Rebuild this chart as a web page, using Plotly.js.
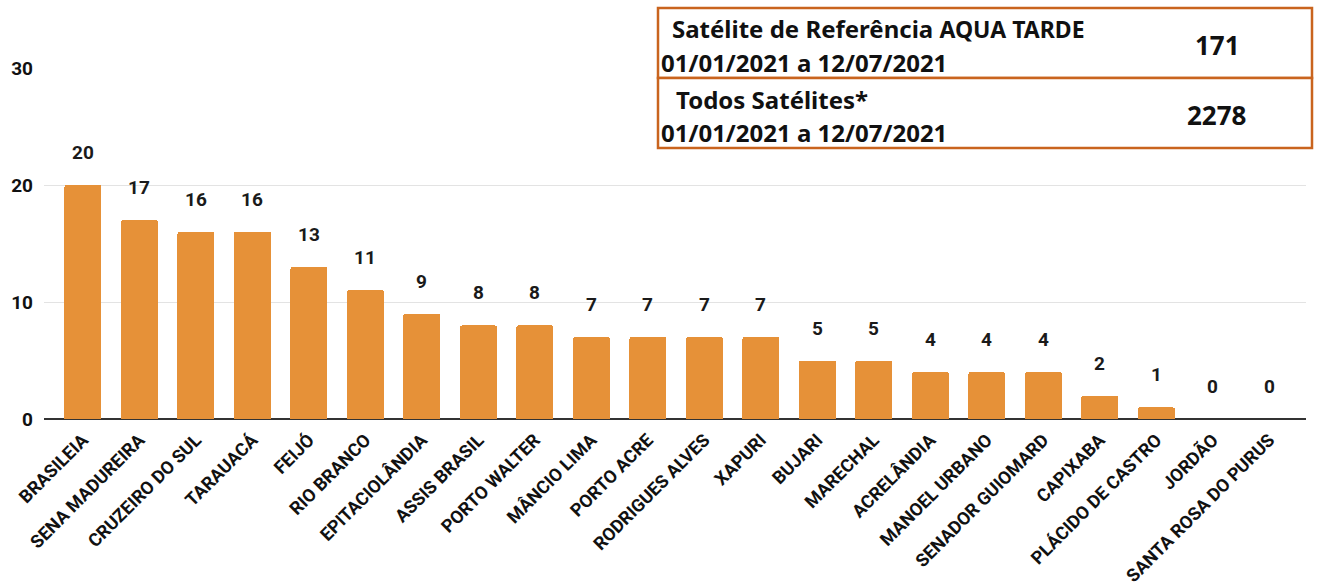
<!DOCTYPE html>
<html>
<head>
<meta charset="utf-8">
<script src="https://cdn.plot.ly/plotly-3.0.1.min.js"></script>
<style>html,body{margin:0;padding:0;background:#fff;}#chart{width:1318px;height:588px;}</style>
</head>
<body>
<div id="chart"></div>
<script>
const municipios = ["BRASILEIA","SENA MADUREIRA","CRUZEIRO DO SUL","TARAUACÁ","FEIJÓ","RIO BRANCO","EPITACIOLÂNDIA","ASSIS BRASIL","PORTO WALTER","MÂNCIO LIMA","PORTO ACRE","RODRIGUES ALVES","XAPURI","BUJARI","MARECHAL","ACRELÂNDIA","MANOEL URBANO","SENADOR GUIOMARD","CAPIXABA","PLÁCIDO DE CASTRO","JORDÃO","SANTA ROSA DO PURUS"];
const focos = [20,17,16,16,13,11,9,8,8,7,7,7,7,5,5,4,4,4,2,1,0,0];
const yTicks = [0,10,20,30];
const tabelaRotulos = ["Satélite de Referência <span style='font-size:23px'>AQUA TARDE</span>", "Todos Satélites*"];
const tabelaPeriodo = ["01/01/2021 a 12/07/2021", "01/01/2021 a 12/07/2021"];
const tabelaValores = [171, 2278];

const orange = "#e69138";
const border = "#c9641e";
const tableFont = "'Noto Sans', sans-serif";

const trace = {
  type: "bar",
  x: municipios,
  y: focos,
  marker: {color: orange, cornerradius: 2},
  width: 0.655,
  hoverinfo: "x+y"
};

const annotations = municipios.map((m, i) => ({
  x: m, y: focos[i], xref: "x", yref: "y",
  text: String(focos[i]), showarrow: false,
  yanchor: "bottom", yshift: 19,
  font: {family: "Roboto, sans-serif", size: 19, color: "#1a1a1a", weight: 700}
}));

// table: paper coords
const px = v => (v - 44) / 1262;
const py = v => (419 - v) / 351;
const rows = [[8,78],[78,148]];
const shapes = rows.map(r => ({
  type: "rect", xref: "paper", yref: "paper",
  x0: px(658), x1: px(1312), y0: py(r[1]), y1: py(r[0]),
  line: {color: border, width: 2.5}, fillcolor: "#ffffff", layer: "above"
}));
rows.forEach((r, i) => {
  annotations.push({
    xref: "paper", yref: "paper", x: px(i === 0 ? 670 : 674), y: py(r[0] + 21),
    xanchor: "left", yanchor: "middle", showarrow: false,
    text: tabelaRotulos[i],
    font: {family: tableFont, size: 24, color: "#111", weight: 700}
  });
  annotations.push({
    xref: "paper", yref: "paper", x: px(659), y: py(r[0] + 54),
    xanchor: "left", yanchor: "middle", showarrow: false,
    text: tabelaPeriodo[i],
    font: {family: tableFont, size: 24, color: "#111", weight: 700}
  });
  annotations.push({
    xref: "paper", yref: "paper", x: px(1217), y: py(r[0] + 37),
    xanchor: "center", yanchor: "middle", showarrow: false,
    text: String(tabelaValores[i]),
    font: {family: tableFont, size: 26, color: "#111", weight: 700}
  });
});

const layout = {
  width: 1318, height: 588,
  margin: {l: 44, r: 12, t: 68, b: 169},
  paper_bgcolor: "#fff", plot_bgcolor: "#fff",
  showlegend: false,
  bargap: 0,
  xaxis: {
    type: "category",
    range: [-0.69, 21.65],
    tickangle: -45,
    tickfont: {family: "Roboto, sans-serif", size: 18, color: "#111", weight: 700},
    ticks: "", showgrid: false, showline: false, zeroline: false,
    ticklabelstandoff: 6,
    automargin: false
  },
  yaxis: {
    range: [0, 30],
    tickvals: yTicks,
    tickfont: {family: "Roboto, sans-serif", size: 19, color: "#111", weight: 700},
    showgrid: true, gridcolor: "#e3e3e3", gridwidth: 1,
    zeroline: true, zerolinecolor: "#333", zerolinewidth: 1.5,
    ticks: "", ticklabelstandoff: 10,
    automargin: false
  },
  annotations: annotations,
  shapes: shapes
};

Plotly.newPlot("chart", [trace], layout, {displayModeBar: false, staticPlot: true});
</script>
</body>
</html>
